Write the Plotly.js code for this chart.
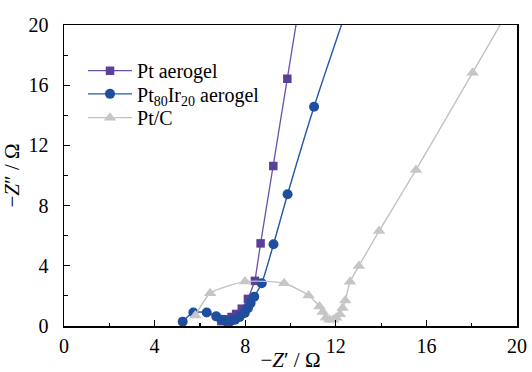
<!DOCTYPE html>
<html>
<head>
<meta charset="utf-8">
<script src="https://cdn.plot.ly/plotly-3.0.1.min.js"></script>
<style>html,body{margin:0;padding:0;background:#fff}#chart{width:532px;height:372px}</style>
</head>
<body>
<div id="chart"></div>
<script>
// Pt aerogel (purple squares)
const ptX = [6.95, 7.2, 7.4, 7.6, 7.85, 8.12, 8.43, 8.68, 9.24, 9.86, 10.5];
const ptY = [0.32, 0.45, 0.6, 0.8, 1.15, 1.8, 3.0, 5.49, 10.63, 16.43, 22.4];

// Pt80Ir20 aerogel (blue circles)
const irX = [5.24, 5.71, 6.3, 6.72, 6.95, 7.15, 7.35, 7.55, 7.75, 7.98, 8.12, 8.24, 8.4, 8.73, 9.25, 9.87, 11.04, 12.7];
const irY = [0.29, 0.9, 0.9, 0.64, 0.42, 0.32, 0.32, 0.42, 0.6, 0.86, 1.18, 1.52, 1.95, 2.84, 5.43, 8.75, 14.57, 22.0];

// Pt/C (grey triangles)
const pcX = [5.8, 6.45, 7.99, 9.72, 10.8, 11.28, 11.42, 11.56, 11.72, 11.88, 12.02, 12.18, 12.3, 12.42, 12.63, 13.02, 13.91, 15.54, 18.04, 19.6];
const pcY = [0.7, 2.17, 2.95, 2.84, 2.03, 1.3, 0.93, 0.55, 0.42, 0.42, 0.55, 0.78, 1.2, 1.7, 2.94, 3.99, 6.31, 10.37, 16.83, 20.9];

const traces = [
  {x: ptX, y: ptY, name: 'Pt aerogel', type: 'scatter', mode: 'lines+markers', legend: 'legend',
   line: {color: '#6a51a8', width: 1.3},
   marker: {symbol: 'square', size: 8.5, color: '#5c3f98'}},
  {x: irX, y: irY, name: 'Pt<sub>80</sub>Ir<sub>20</sub> aerogel', type: 'scatter', mode: 'lines+markers', legend: 'legend2',
   line: {color: '#2258aa', width: 1.4, shape: 'spline', smoothing: 0.6},
   marker: {symbol: 'circle', size: 10, color: '#1f4e9e'}},
  {x: pcX, y: pcY, name: 'Pt/C', type: 'scatter', mode: 'lines+markers', legend: 'legend3',
   line: {color: '#c2c2c2', width: 1.4, shape: 'spline', smoothing: 0.6},
   marker: {symbol: 'triangle-up', size: 11, color: '#c6c6c8'}}
];

const fam = '"Liberation Serif", "Times New Roman", serif';
const tickFont = {family: fam, size: 20, color: '#000'};
const titleFont = {family: fam, size: 21, color: '#000'};

const axisCommon = {
  range: [0, 20], dtick: 4, tick0: 0,
  ticks: 'inside', ticklen: 6, tickwidth: 1.2, tickcolor: '#000',
  minor: {dtick: 2, ticks: 'inside', ticklen: 3.5, tickwidth: 1.2, tickcolor: '#000', showgrid: false},
  showline: true, linecolor: '#000', linewidth: 1.5, mirror: true,
  showgrid: false, zeroline: false,
  tickfont: tickFont
};

function leg(y) {
  return {x: 0.042, y: y, xanchor: 'left', yanchor: 'top', bgcolor: 'rgba(0,0,0,0)',
          font: {family: fam, size: 20, color: '#000'}, itemwidth: 44};
}

const layout = {
  width: 532, height: 372,
  margin: {l: 64, r: 15, t: 25, b: 46},
  paper_bgcolor: '#fff', plot_bgcolor: '#fff',
  font: tickFont,
  showlegend: true,
  legend: leg(0.913),
  legend2: leg(0.836),
  legend3: leg(0.757),
  xaxis: Object.assign({}, axisCommon, {
    ticklabelstandoff: 1,
    title: {text: '\u2212<i>Z</i>\u2032 / \u03a9', font: titleFont, standoff: 0}
  }),
  yaxis: Object.assign({}, axisCommon, {
    ticklabelstandoff: 10,
    title: {text: '\u2212<i>Z</i>\u2033 / \u03a9', font: titleFont, standoff: 8}
  })
};

Plotly.newPlot('chart', traces, layout, {displayModeBar: false, staticPlot: true});
</script>
</body>
</html>
